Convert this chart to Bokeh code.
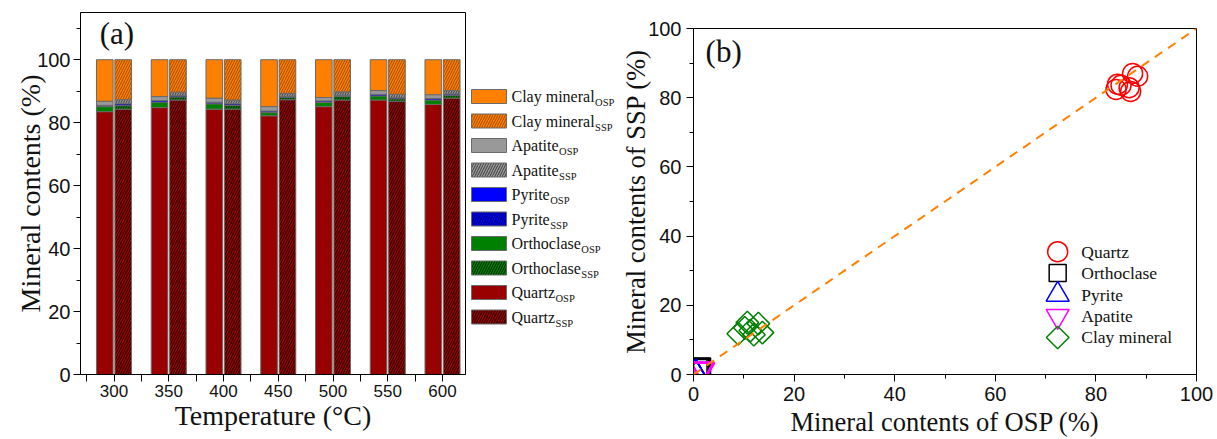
from bokeh.plotting import figure
from bokeh.layouts import row, column
from bokeh.models import Range1d, FixedTicker, ColumnDataSource, Slope, Label
from bokeh.core.properties import value
from bokeh.embed import file_html
from bokeh.resources import INLINE
import math

# ---------------- data ----------------
temps = [300, 350, 400, 450, 500, 550, 600]

quartz_osp = [83.5, 84.8, 84.3, 82.2, 85.1, 87.2, 85.8]
orthoclase_osp = [1.6, 1.7, 1.7, 1.0, 1.3, 1.3, 1.4]
pyrite_osp = [0.4, 0.5, 0.5, 0.5, 0.5, 0.5, 0.5]
apatite_osp = [1.3, 1.3, 1.3, 1.4, 1.1, 1.2, 1.2]
clay_osp = [13.2, 11.7, 12.2, 14.9, 12.0, 9.8, 11.1]

quartz_ssp = [84.3, 87.2, 84.3, 87.3, 87.2, 86.8, 87.8]
orthoclase_ssp = [1.1, 1.0, 1.2, 0.8, 1.1, 0.8, 0.9]
pyrite_ssp = [0.6, 0.4, 0.5, 0.3, 0.4, 0.4, 0.4]
apatite_ssp = [1.3, 1.1, 1.2, 0.9, 1.1, 1.0, 1.1]
clay_ssp = [12.7, 10.3, 12.8, 10.7, 10.2, 11.0, 9.8]

# OSP vs SSP contents for the parity plot
quartz_x = [84.3, 87.3, 88.3, 86.9, 84.0, 85.0, 86.6]
quartz_y = [83.9, 87.0, 86.2, 81.8, 82.4, 83.6, 82.9]
orthoclase_x = [1.6, 1.3, 1.7, 1.0, 1.3, 1.3, 1.4]
orthoclase_y = [2.2, 2.0, 2.3, 1.9, 2.1, 2.0, 2.2]
pyrite_x = [0.4, 0.5, 0.5, 0.5, 0.5, 0.5, 0.5]
pyrite_y = [0.6, 0.4, 0.5, 0.3, 0.4, 0.4, 0.4]
apatite_x = [1.8, 1.7, 1.8, 1.9, 1.6, 1.7, 1.7]
apatite_y = [1.7, 1.5, 1.6, 1.3, 1.5, 1.4, 1.5]
clay_x = [10.7, 12.9, 13.7, 8.9, 11.3, 10.2, 12.0]
clay_y = [15.0, 14.7, 12.1, 11.8, 12.7, 13.5, 11.5]

minerals = ["Quartz", "Orthoclase", "Pyrite", "Apatite", "Clay mineral"]
fills = ["#990000", "#008000", "#0000ff", "#999999", "#ff8000"]
hatch_cols = ["#1a0000", "#002200", "#000055", "#3c3c3c", "#a04a00"]

SERIF = "Liberation Serif"
SANS = "Liberation Sans"
INK = "#111111"

# ---------------- (a) stacked bars ----------------
src = ColumnDataSource(dict(
    T=temps,
    x_osp=[t - 8.4 for t in temps],
    x_ssp=[t + 8.4 for t in temps],
    q_o=quartz_osp, o_o=orthoclase_osp, p_o=pyrite_osp, a_o=apatite_osp, c_o=clay_osp,
    q_s=quartz_ssp, o_s=orthoclase_ssp, p_s=pyrite_ssp, a_s=apatite_ssp, c_s=clay_ssp,
))

pa = figure(width=468, height=439, output_backend="svg", toolbar_location=None, title=None,
            x_range=Range1d(269.4, 621), y_range=Range1d(0, 115),
            min_border_left=80, min_border_right=3, min_border_top=12, min_border_bottom=65)

pa.vbar_stack(["q_o", "o_o", "p_o", "a_o", "c_o"], x="x_osp", width=15.2, source=src,
              fill_color=fills, line_color="#6a6a6a", line_width=1)
pa.vbar_stack(["q_s", "o_s", "p_s", "a_s", "c_s"], x="x_ssp", width=15.2, source=src,
              fill_color=fills, line_color="#6a6a6a", line_width=1,
              hatch_pattern="/", hatch_color=hatch_cols, hatch_scale=5, hatch_weight=1)

pa.xaxis.ticker = FixedTicker(ticks=temps, minor_ticks=[275, 325, 375, 425, 475, 525, 575, 625])
pa.yaxis.ticker = FixedTicker(ticks=[0, 20, 40, 60, 80, 100], minor_ticks=[10, 30, 50, 70, 90, 110])
pa.xaxis.axis_label = "Temperature (°C)"
pa.yaxis.axis_label = "Mineral contents (%)"
pa.add_layout(Label(x=287.0, y=114.0, text="(a)", text_font=SERIF, text_font_size="31px",
                    text_baseline="top", text_color=INK))

# ---------------- bar legend ----------------
leg = figure(width=149, height=439, output_backend="svg", toolbar_location=None, title=None,
             x_range=Range1d(0, 149), y_range=Range1d(439, 0), min_border=0)
leg.axis.visible = False
leg.grid.visible = False
leg.outline_line_color = None

# Times advance widths (1/1000 em) used to place the subscripts
TW = {"C": 667, "l": 278, "a": 444, "y": 500, " ": 250, "m": 778, "i": 278, "n": 500,
      "e": 444, "r": 333, "A": 722, "p": 500, "t": 278, "P": 556, "O": 722, "h": 500,
      "o": 500, "c": 444, "s": 389, "Q": 722, "u": 500, "z": 444}

entries = []
for m, fc, hc in reversed(list(zip(minerals, fills, hatch_cols))):
    entries.append((m, "OSP", fc, None))
    entries.append((m, "SSP", fc, hc))

lab_fs = 16
for i, (name, sub, fc, hc) in enumerate(entries):
    yc = 96 + i * 24.5
    kw = dict(hatch_pattern="/", hatch_color=hc, hatch_scale=5, hatch_weight=1) if hc else {}
    leg.quad(left=3, right=38, top=yc - 7, bottom=yc + 7, fill_color=fc,
             line_color="#6a6a6a", line_width=1, **kw)
    wpx = sum(TW.get(ch, 500) for ch in name) * lab_fs / 1000.0
    leg.text(x=[43], y=[yc], text=[name], text_font=value(SERIF),
             text_font_size=f"{lab_fs}px", text_baseline="middle", text_color=INK)
    leg.text(x=[43 + wpx + 0.5], y=[yc + 6], text=[sub], text_font=value(SERIF),
             text_font_size="10.5px", text_baseline="middle", text_color=INK)

# ---------------- (b) parity plot ----------------
pb = figure(width=600, height=439, output_backend="svg", toolbar_location=None, title=None,
            x_range=Range1d(0, 100), y_range=Range1d(0, 100),
            min_border_left=76, min_border_right=21, min_border_top=28, min_border_bottom=65)

pb.add_layout(Slope(gradient=1, y_intercept=0, line_color="#ff8000", line_width=2,
                    line_dash="9 7"))

series = [
    (quartz_x, quartz_y, dict(marker="circle", size=20, line_color="#ff0000")),
    (orthoclase_x, orthoclase_y, dict(marker="square", size=17, line_color="#000000")),
    (pyrite_x, pyrite_y, dict(marker="triangle", size=23, line_color="#0000ff")),
    (apatite_x, apatite_y, dict(marker="inverted_triangle", size=23, line_color="#ff00ff")),
    (clay_x, clay_y, dict(marker="square", size=16, angle=math.pi / 4, line_color="#008000")),
]
for xs, ys, st in series:
    pb.scatter(xs, ys, fill_color=None, line_width=1.5, **st)

# legend block: one swatch + name per row, stacked downward from an anchor
key_x, key_y, key_step = 72.4, 35.5, 6.2
for i, (name, (_, _, st)) in enumerate(zip(minerals, series)):
    yk = key_y - i * key_step
    pb.scatter([key_x], [yk], fill_color=None, line_width=1.5, **st)
    pb.text(x=[key_x + 4.7], y=[yk], text=[name], text_font=value(SERIF),
            text_font_size="17.5px", text_baseline="middle", text_color=INK)

pb.xaxis.ticker = FixedTicker(ticks=[0, 20, 40, 60, 80, 100], minor_ticks=[10, 30, 50, 70, 90])
pb.yaxis.ticker = FixedTicker(ticks=[0, 20, 40, 60, 80, 100], minor_ticks=[10, 30, 50, 70, 90])
pb.xaxis.axis_label = "Mineral contents of OSP (%)"
pb.yaxis.axis_label = "Mineral contents of SSP (%)"
pb.add_layout(Label(x=2.4, y=98.5, text="(b)", text_font=SERIF, text_font_size="31px",
                    text_baseline="top", text_color=INK))

# ---------------- shared styling ----------------
for p in (pa, pb):
    p.grid.visible = False
    p.outline_line_color = "#000000"
    p.outline_line_width = 1
    p.background_fill_color = "#ffffff"
    for ax in p.axis:
        ax.axis_line_color = "#000000"
        ax.major_tick_line_color = "#000000"
        ax.minor_tick_line_color = "#000000"
        ax.major_tick_in = 0
        ax.minor_tick_in = 0
        ax.major_tick_out = 7
        ax.minor_tick_out = 4
        ax.major_label_text_font = SANS
        ax.major_label_text_font_size = "20px"
        ax.major_label_text_color = INK
        ax.axis_label_text_font = SERIF
        ax.axis_label_text_font_style = "normal"
        ax.axis_label_text_font_size = "26.5px"
        ax.axis_label_text_color = INK

pa.xaxis.axis_label_text_font_size = "28px"
pa.yaxis.axis_label_text_font_size = "28px"
pa.xaxis.minor_tick_out = 7
pa.xaxis.major_label_text_font_size = "17px"
pa.xaxis.major_label_standoff = 3
pa.xaxis.axis_label_standoff = 0
pa.yaxis.major_label_standoff = 3
pa.yaxis.axis_label_standoff = -12
pb.xaxis.axis_label_standoff = 3
pb.yaxis.axis_label_standoff = -6

# each panel sits in its own column so the frames keep their own borders
layout = row(column(pa), leg, column(pb), spacing=0)
open("out.html", "w").write(file_html(layout, INLINE))
